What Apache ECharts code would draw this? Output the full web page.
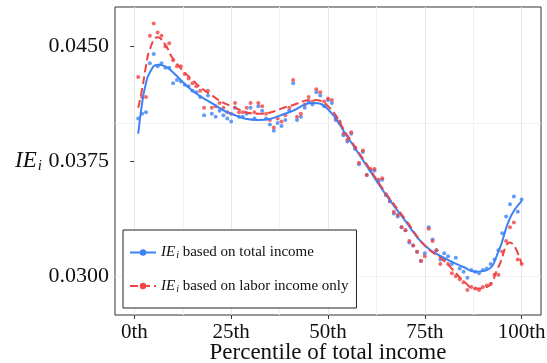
<!DOCTYPE html>
<html>
<head>
<meta charset="utf-8">
<script src="https://cdn.jsdelivr.net/npm/echarts@6/dist/echarts.min.js"></script>
<style>
  html, body {margin:0; padding:0; background:#fff;}
  #chart {width:547px; height:363px;}
</style>
</head>
<body>
<div id="chart"></div>
<script type="text/javascript">
  // percentiles 1..100
  var pct = [];
  for (var i = 1; i <= 100; i++) pct.push(i);

  // IE_i based on total income (points)
  var totalPts = [
    0.0403, 0.0406, 0.0407, 0.0439, 0.0445, 0.0437, 0.0439, 0.0436, 0.0436, 0.0426,
    0.0428, 0.0427, 0.0425, 0.0424, 0.0421, 0.0420, 0.0417, 0.0405, 0.0418, 0.0406,
    0.0404, 0.0408, 0.0405, 0.0403, 0.0401, 0.0410, 0.0404, 0.0404, 0.0406, 0.0410,
    0.0403, 0.0411, 0.0408, 0.0403, 0.0399, 0.0395, 0.0400, 0.0398, 0.0402, 0.0408,
    0.0426, 0.0402, 0.0404, 0.0410, 0.0414, 0.0412, 0.0420, 0.0418, 0.0411, 0.0415,
    0.0413, 0.0402, 0.0400, 0.0392, 0.0388, 0.0393, 0.0383, 0.0373, 0.0381, 0.0366,
    0.0369, 0.0369, 0.0362, 0.0363, 0.0353, 0.0349, 0.0341, 0.0339, 0.0332, 0.0330,
    0.0322, 0.0320, 0.0316, 0.0310, 0.0315, 0.0332, 0.0324, 0.0317, 0.0311, 0.0315,
    0.0313, 0.0308, 0.0312, 0.0305, 0.0303, 0.0299, 0.0304, 0.0303, 0.0302, 0.0304,
    0.0305, 0.0308, 0.0311, 0.0317, 0.0328, 0.0339, 0.0347, 0.0352, 0.0342, 0.0350
  ];
  // IE_i based on labor income only (points)
  var laborPts = [
    0.0430, 0.0417, 0.0417, 0.0457, 0.0465, 0.0459, 0.0457, 0.0450, 0.0452, 0.0441,
    0.0437, 0.0437, 0.0432, 0.0429, 0.0426, 0.0424, 0.0421, 0.0410, 0.0421, 0.0410,
    0.0411, 0.0413, 0.0410, 0.0407, 0.0406, 0.0413, 0.0407, 0.0407, 0.0410, 0.0413,
    0.0407, 0.0413, 0.0411, 0.0406, 0.0402, 0.0397, 0.0403, 0.0401, 0.0405, 0.0410,
    0.0428, 0.0404, 0.0406, 0.0412, 0.0417, 0.0414, 0.0422, 0.0420, 0.0414, 0.0416,
    0.0415, 0.0403, 0.0401, 0.0393, 0.0389, 0.0394, 0.0384, 0.0374, 0.0382, 0.0366,
    0.0370, 0.0370, 0.0363, 0.0364, 0.0353, 0.0349, 0.0342, 0.0340, 0.0332, 0.0330,
    0.0323, 0.0320, 0.0316, 0.0310, 0.0313, 0.0331, 0.0323, 0.0317, 0.0308, 0.0311,
    0.0308, 0.0302, 0.0300, 0.0298, 0.0296, 0.0291, 0.0293, 0.0292, 0.0291, 0.0293,
    0.0294, 0.0295, 0.0301, 0.0301, 0.0316, 0.0323, 0.0332, 0.0335, 0.0311, 0.0308
  ];

  // smoothed fits
  var fitX     = [1, 2, 3, 4, 6, 8, 10, 15, 20, 25, 32, 40, 46, 50, 55, 60, 65, 70, 75, 80, 85, 88, 91, 94, 97, 100];
  var fitTotal = [0.0393, 0.0413, 0.0426, 0.0433, 0.0438, 0.0437, 0.0433, 0.0421, 0.0413, 0.0406, 0.0402, 0.0407, 0.0413, 0.0409, 0.0391, 0.0372, 0.0353, 0.0336, 0.0320, 0.0312, 0.0306, 0.0303, 0.0304, 0.0316, 0.0338, 0.0349];
  var fitLabor = [0.0410, 0.0422, 0.0437, 0.0448, 0.0456, 0.0451, 0.0442, 0.0428, 0.0418, 0.0411, 0.0406, 0.0411, 0.0415, 0.0411, 0.0392, 0.0373, 0.0354, 0.0337, 0.0320, 0.0310, 0.0297, 0.0292, 0.0293, 0.0306, 0.0322, 0.0308];

  var xTicks = [0, 25, 50, 75, 100];
  var xMinor = [12.5, 37.5, 62.5, 87.5];
  var yTicks = [0.0300, 0.0375, 0.0450];
  var yMinor = [0.03375, 0.04125];

  var BLUE = '#3b82f6', RED = '#ef4444';
  var FONT = 'Liberation Serif';
  var nameTotal = 'total', nameLabor = 'labor';

  function zip(xs, ys) {
    return xs.map(function (x, k) { return [x, ys[k]]; });
  }

  var gridLines = [];
  xTicks.forEach(function (v) { gridLines.push({xAxis: v, lineStyle: {color: '#e6e6e6', width: 1, type: 'solid'}}); });
  xMinor.forEach(function (v) { gridLines.push({xAxis: v, lineStyle: {color: '#f2f2f2', width: 1, type: 'solid'}}); });
  yTicks.forEach(function (v) { gridLines.push({yAxis: v, lineStyle: {color: '#e6e6e6', width: 1, type: 'solid'}}); });
  yMinor.forEach(function (v) { gridLines.push({yAxis: v, lineStyle: {color: '#f2f2f2', width: 1, type: 'solid'}}); });

  var chart = echarts.init(document.getElementById('chart'), null, {renderer: 'canvas'});
  chart.setOption({
    animation: false,
    backgroundColor: '#fff',
    textStyle: {fontFamily: FONT},
    grid: {left: 115, right: 6, top: 7, bottom: 48, outerBoundsMode: 'none', containLabel: false,
      show: true, borderColor: '#333', borderWidth: 1, backgroundColor: 'transparent'},
    legend: {
      orient: 'vertical', left: 123, top: 230,
      padding: [15, 8, 14, 6], itemGap: 18, itemWidth: 26, itemHeight: 8,
      borderColor: '#222', borderWidth: 1, backgroundColor: '#fff',
      data: [nameTotal, nameLabor],
      formatter: function (n) {
        return n === nameTotal ? '{it|IE}{sub|i}{t| based on total income}' : '{it|IE}{sub|i}{t| based on labor income only}';
      },
      textStyle: {
        fontFamily: FONT, fontSize: 15, color: '#111',
        rich: {
          it: {fontFamily: FONT, fontStyle: 'italic', fontSize: 15, color: '#111'},
          sub: {fontFamily: FONT, fontStyle: 'italic', fontSize: 10, color: '#111', verticalAlign: 'bottom', padding: [6, 0, 0, 1]},
          t: {fontFamily: FONT, fontSize: 15, color: '#111'}
        }
      }
    },
    xAxis: {
      type: 'value', min: -5, max: 105,
      name: 'Percentile of total income', nameLocation: 'middle', nameGap: 38, nameMoveOverlap: false,
      nameTextStyle: {fontFamily: FONT, fontSize: 23, color: '#111', verticalAlign: 'middle', lineHeight: 23},
      axisLine: {show: false},
      axisTick: {show: true, length: 4, lineStyle: {color: '#333'}, customValues: xTicks},
      axisLabel: {customValues: xTicks, margin: 7, fontFamily: FONT, fontSize: 21, color: '#111',
        formatter: function (v) { return v + 'th'; }},
      splitLine: {show: false}
    },
    yAxis: {
      type: 'value', min: 0.02747, max: 0.04757,
      name: '{it|IE}{sub|i}', nameLocation: 'middle', nameRotate: 0, nameGap: 73,
      nameTextStyle: {
        rich: {
          it: {fontFamily: FONT, fontStyle: 'italic', fontSize: 23, color: '#111'},
          sub: {fontFamily: FONT, fontStyle: 'italic', fontSize: 15, color: '#111', verticalAlign: 'bottom', padding: [10, 0, 0, 1]}
        }
      },
      axisLine: {show: false},
      axisTick: {show: true, length: 4, lineStyle: {color: '#333'}, customValues: yTicks},
      axisLabel: {customValues: yTicks, margin: 6, fontFamily: FONT, fontSize: 22, color: '#111',
        formatter: function (v) { return v.toFixed(4); }},
      splitLine: {show: false}
    },
    series: [
      {
        name: nameTotal, type: 'line', z: 4, data: zip(fitX, fitTotal),
        smooth: 0.5, showSymbol: false, symbol: 'circle', symbolSize: 5,
        itemStyle: {color: BLUE}, lineStyle: {color: BLUE, width: 2}
      },
      {
        name: nameLabor, type: 'line', z: 5, data: zip(fitX, fitLabor),
        smooth: 0.5, showSymbol: false, symbol: 'circle', symbolSize: 5,
        itemStyle: {color: RED}, lineStyle: {color: RED, width: 2, type: [8, 4]}
      },
      {
        name: nameTotal, type: 'scatter', z: 2, data: zip(pct, totalPts),
        symbolSize: 4, itemStyle: {color: BLUE}
      },
      {
        name: nameLabor, type: 'scatter', z: 3, data: zip(pct, laborPts),
        symbolSize: 4, itemStyle: {color: RED}
      },
      {
        name: 'grid', type: 'line', z: 1, data: [], silent: true,
        markLine: {silent: true, z: 1, symbol: 'none', label: {show: false}, animation: false, data: gridLines}
      }
    ]
  });
</script>
</body>
</html>
